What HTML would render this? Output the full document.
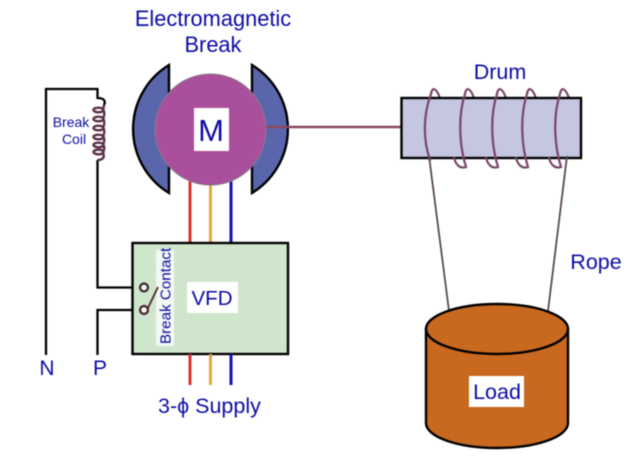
<!DOCTYPE html>
<html>
<head>
<meta charset="utf-8">
<style>
html,body{margin:0;padding:0;background:#fff;width:640px;height:464px;overflow:hidden}
svg{display:block;filter:blur(0.5px)}
text{font-family:"Liberation Sans",sans-serif;fill:#0c0ca6}
</style>
</head>
<body>
<svg width="640" height="464" viewBox="0 0 640 464" xmlns="http://www.w3.org/2000/svg">
<rect width="640" height="464" fill="#fff"/>

<!-- Title -->
<text x="213" y="26" font-size="21.800" text-anchor="middle">Electromagnetic</text>
<text x="213" y="52" font-size="21.800" text-anchor="middle">Break</text>

<!-- Brakes -->
<path d="M169 65 A75 75 0 0 0 169 193 Z" fill="#5a66ac" stroke="#000" stroke-width="2.400"/>
<path d="M252 65 A75 75 0 0 1 252 193 Z" fill="#5a66ac" stroke="#000" stroke-width="2.400"/>

<!-- 3-phase wires top -->
<line x1="190" y1="175" x2="190" y2="243" stroke="#d8352f" stroke-width="3"/>
<line x1="210.500" y1="175" x2="210.500" y2="243" stroke="#e0a83e" stroke-width="3"/>
<line x1="231" y1="175" x2="231" y2="243" stroke="#1414b4" stroke-width="3"/>

<!-- Motor -->
<circle cx="210.500" cy="129.500" r="55.500" fill="#aa4f9c" stroke="#8a7a8c" stroke-width="1"/>
<rect x="194" y="108" width="35" height="43" fill="#fff"/>
<text x="211" y="141" font-size="31" text-anchor="middle">M</text>

<!-- Shaft -->
<line x1="266" y1="127" x2="401" y2="127" stroke="#8a4860" stroke-width="2.400"/>

<!-- Coil circuit -->
<path d="M46 355 V89 H97.500 V98 C104 98 106 101 104 105" fill="none" stroke="#000" stroke-width="2.300"/>
<path d="M97.500 160 V287.500 H140" fill="none" stroke="#000" stroke-width="2.300"/>
<path d="M97.500 355 V310 H140" fill="none" stroke="#000" stroke-width="2.300"/>
<g fill="none" stroke="#5a3048" stroke-width="2.400">
<ellipse cx="98.500" cy="110" rx="5" ry="2.300"/>
<ellipse cx="98.500" cy="119" rx="5" ry="2.300"/>
<ellipse cx="98.500" cy="128" rx="5" ry="2.300"/>
<ellipse cx="98.500" cy="137" rx="5" ry="2.300"/>
<ellipse cx="98.500" cy="145" rx="5" ry="2.300"/>
<ellipse cx="98.500" cy="152" rx="5" ry="2.300"/>
<path d="M103 153 C105 157 103 160 97.500 160"/>
<path d="M104 105 L103 110 M103.500 110 C105 114 104 116 103 119 M103.500 119 C105 123 104 125 103 128 M103.500 128 C105 132 104 134 103 137 M103.500 137 C105 140 104 142 103 145 M103.500 145 C105 148 104 150 103 152"/>
</g>
<text x="71" y="127" font-size="14" text-anchor="middle">Break</text>
<text x="74" y="144" font-size="14" text-anchor="middle">Coil</text>

<!-- VFD -->
<rect x="132.500" y="243" width="155.500" height="111" fill="#cfe6cd" stroke="#000" stroke-width="2.400"/>
<rect x="187" y="282" width="51" height="31" fill="#fff"/>
<text x="212" y="305" font-size="20.500" text-anchor="middle">VFD</text>
<rect x="156" y="250" width="18" height="96" fill="#f2f8f2"/>
<text transform="translate(170.500,344) rotate(-90)" font-size="15.200">Break Contact</text>

<!-- Contact -->
<path d="M140 287.500 H144 M140 310 H144" stroke="#000" stroke-width="2.300"/>
<line x1="147" y1="310" x2="158" y2="287" stroke="#5a2030" stroke-width="1.800"/>
<circle cx="144" cy="287.500" r="4" fill="#f4f4f4" stroke="#3a2a30" stroke-width="2.200"/>
<circle cx="144" cy="310" r="4" fill="#f4f4f4" stroke="#4a2030" stroke-width="2.200"/>

<!-- 3-phase wires bottom -->
<line x1="190" y1="354" x2="190" y2="385" stroke="#d8352f" stroke-width="3"/>
<line x1="210.500" y1="354" x2="210.500" y2="385" stroke="#e0a83e" stroke-width="3"/>
<line x1="231" y1="354" x2="231" y2="385" stroke="#1414b4" stroke-width="3"/>

<text x="47" y="375" font-size="21" text-anchor="middle">N</text>
<text x="100" y="375" font-size="21" text-anchor="middle">P</text>
<text x="158" y="413" font-size="21.500">3-ϕ Supply</text>

<!-- Drum -->
<text x="500" y="79" font-size="21.500" text-anchor="middle">Drum</text>
<g fill="none" stroke="#7a4468" stroke-width="2.200" stroke-linecap="round">
<path d="M431 94 C432 87 436 87 440 98"/>
<path d="M465 94 C466 87 470 87 474 98"/>
<path d="M497 94 C498 87 502 87 506 98"/>
<path d="M527 94 C528 87 532 87 536 98"/>
<path d="M560 94 C561 87 565 87 569 98"/>
</g>
<rect x="401.500" y="98" width="179.500" height="60" fill="#c5c7e0" stroke="#000" stroke-width="2.400"/>
<g fill="none" stroke="#7a4468" stroke-width="2.200" stroke-linecap="round">
<path d="M431 94 C423 115 423 140 430 160"/>
<path d="M465 94 C458 115 459 145 466 167 C460 169 456 165 454 158"/>
<path d="M497 94 C490 115 491 145 498 167 C492 169 488 165 486 158"/>
<path d="M527 94 C520 115 521 145 528 167 C522 169 518 165 516 158"/>
<path d="M560 94 C553 115 554 145 561 167 C555 169 551 165 549 158"/>
</g>

<!-- Rope -->
<line x1="429" y1="156" x2="449" y2="311" stroke="#5a4a50" stroke-width="1.800"/>
<line x1="567" y1="156" x2="548" y2="311" stroke="#5a4a50" stroke-width="1.800"/>
<text x="596" y="269" font-size="21.500" text-anchor="middle">Rope</text>

<!-- Load -->
<path d="M426 329 V423 C426 437 458 448 497 448 C536 448 568 437 568 423 V329 Z" fill="#c9691f" stroke="#000" stroke-width="2.400"/>
<ellipse cx="497" cy="329" rx="71" ry="25" fill="#c9691f" stroke="#000" stroke-width="2.400"/>
<rect x="469" y="376" width="55" height="31" fill="#fff"/>
<text x="497" y="399" font-size="21.500" text-anchor="middle">Load</text>
</svg>
</body>
</html>
